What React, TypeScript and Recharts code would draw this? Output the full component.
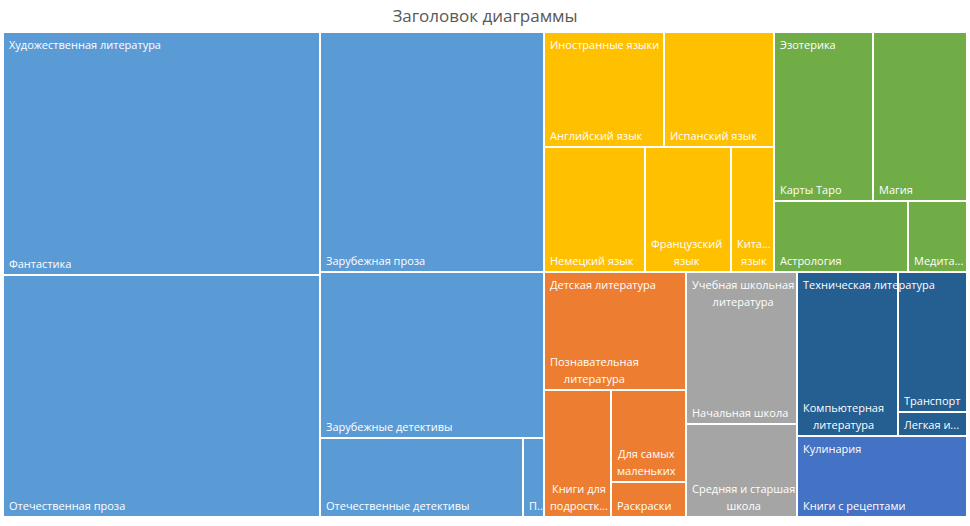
import { Treemap } from 'recharts'

const groupNames = [
  'Художественная литература',
  'Иностранные языки',
  'Эзотерика',
  'Детская литература',
  'Учебная школьная литература',
  'Техническая литература',
  'Кулинария',
]
const groupColors = ['#5B9BD5', '#FFC000', '#70AD47', '#ED7D31', '#A5A5A5', '#255E91', '#4472C4']

const fictionNames = ['Фантастика', 'Отечественная проза', 'Зарубежная проза', 'Зарубежные детективы', 'Отечественные детективы', 'Поэзия']
const fictionValues = [763, 757, 531, 368, 159, 19]
const languageNames = ['Английский язык', 'Испанский язык', 'Немецкий язык', 'Французский язык', 'Китайский язык']
const languageValues = [136, 125, 125, 106, 54]
const esotericNames = ['Карты Таро', 'Магия', 'Астрология', 'Медитация']
const esotericValues = [166, 157, 94, 42]
const kidsNames = ['Познавательная литература', 'Книги для подростков', 'Для самых маленьких', 'Раскраски']
const kidsValues = [165, 84, 68, 26]
const schoolNames = ['Начальная школа', 'Средняя и старшая школа']
const schoolValues = [168, 102]
const techNames = ['Компьютерная литература', 'Транспорт', 'Легкая и пищевая промышленность']
const techValues = [164, 95, 16]
const cookingNames = ['Книги с рецептами']
const cookingValues = [135]

const leafNames = [fictionNames, languageNames, esotericNames, kidsNames, schoolNames, techNames, cookingNames]
const leafValues = [fictionValues, languageValues, esotericValues, kidsValues, schoolValues, techValues, cookingValues]

const data = groupNames.map((g, i) => ({
  name: g,
  color: groupColors[i],
  children: leafNames[i].map((n, j) => ({ name: n, value: leafValues[i][j], color: groupColors[i] })),
}))

const FONT = '"Open Sans", sans-serif'
const LABEL_SIZE = 11
const LINE_H = 17

const canvas = typeof document !== 'undefined' ? document.createElement('canvas') : null
const ctx = canvas ? canvas.getContext('2d') : null

function textWidth(s: string) {
  if (!ctx) return s.length * 6
  ctx.font = `${LABEL_SIZE}px ${FONT}`
  return ctx.measureText(s).width
}

function fitWord(word: string, max: number) {
  if (textWidth(word) <= max) return word
  let k = word.length - 1
  while (k > 1 && textWidth(word.slice(0, k) + '...') > max) k--
  return word.slice(0, k) + '...'
}

function wrapLabel(text: string, max: number, maxLines: number) {
  const lines: string[] = []
  let line = ''
  for (const w of text.split(' ')) {
    const next = line ? line + ' ' + w : w
    if (textWidth(next) <= max) line = next
    else {
      if (line) lines.push(line)
      line = fitWord(w, max)
    }
  }
  if (line) lines.push(line)
  if (lines.length > maxLines) {
    const kept = lines.slice(0, maxLines)
    kept[maxLines - 1] = kept[maxLines - 1].replace(/\.\.\.$/, '') + '...'
    return kept
  }
  return lines
}

function Label({ lines, x, firstBaseline }: { lines: string[]; x: number; firstBaseline: number }) {
  const blockW = Math.max(...lines.map(textWidth))
  return (
    <>
      {lines.map((l, i) => (
        <text
          key={i}
          x={x + blockW / 2}
          y={firstBaseline + i * LINE_H}
          textAnchor="middle"
          fill="#fff"
          fontSize={LABEL_SIZE}
          fontFamily={FONT}
        >
          {l}
        </text>
      ))}
    </>
  )
}

// leaf cells with their own label at the bottom left
function LeafNode(props: any) {
  const { x, y, width, height, depth, name, color } = props
  if (depth !== 2) return null
  const maxLines = Math.max(1, Math.floor((height - 6) / LINE_H))
  const lines = wrapLabel(name, width - 6.5, maxLines)
  return (
    <g>
      <rect x={x} y={y} width={width} height={height} fill={color} stroke="#fff" strokeWidth={2} />
      <Label lines={lines} x={x + 6} firstBaseline={y + height - 7 - (lines.length - 1) * LINE_H} />
    </g>
  )
}

// group names drawn on top of the leaves
function GroupNode(props: any) {
  const { x, y, width, depth, name } = props
  if (depth !== 1) return null
  const lines = wrapLabel(name, width - 8, 3)
  return <Label lines={lines} x={x + 6} firstBaseline={y + 17} />
}

export default function App() {
  return (
    <div style={{ position: 'absolute', left: 0, top: 0, width: 970, height: 526, background: '#fff' }}>
      <div
        style={{
          position: 'absolute',
          left: 0,
          top: 4,
          width: 970,
          textAlign: 'center',
          fontFamily: FONT,
          fontSize: 17,
          color: '#595959',
        }}
      >
        Заголовок диаграммы
      </div>
      <div style={{ position: 'absolute', left: 3, top: 32 }}>
        <Treemap
          width={964}
          height={485}
          data={data}
          dataKey="value"
          nameKey="name"
          aspectRatio={0.909}
          isAnimationActive={false}
          content={<LeafNode />}
        />
      </div>
      <div style={{ position: 'absolute', left: 3, top: 32, pointerEvents: 'none' }}>
        <Treemap
          width={964}
          height={485}
          data={data}
          dataKey="value"
          nameKey="name"
          aspectRatio={0.909}
          isAnimationActive={false}
          content={<GroupNode />}
        />
      </div>
    </div>
  )
}
